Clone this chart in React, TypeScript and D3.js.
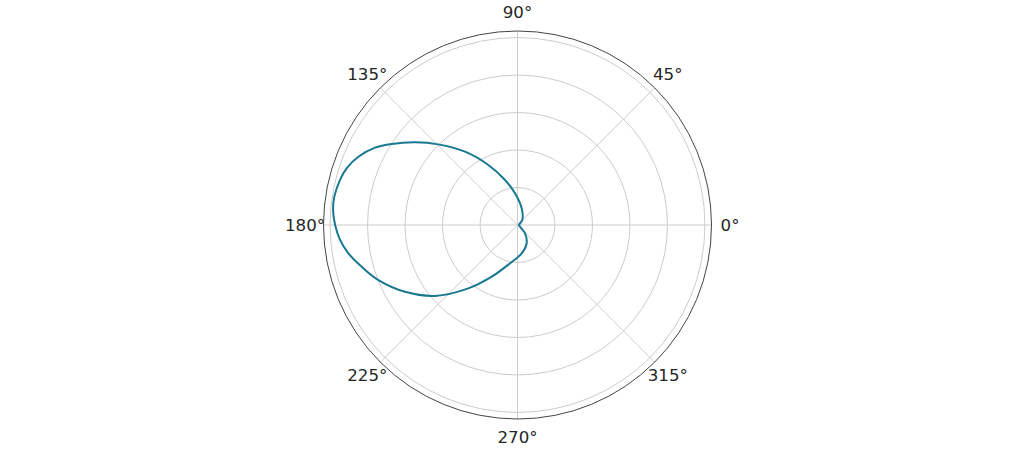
import { useEffect, useRef } from "react";
import * as d3 from "d3";

// angles in degrees (counter-clockwise from east), radius in data units
const angles = [
  0, 46, 76, 94.5, 105.5, 115.9, 125.6, 134.5, 141.1, 147.2, 151.5, 156.8,
  161.6, 165.8, 171.2, 175.4, 180, 184.8, 189.5, 195.7, 201.6, 210.7, 220.7,
  232.2, 243.5, 259, 278.4, 296.6, 312, 326,
];
const radii = [
  0.008, 0.037, 0.092, 0.17, 0.249, 0.356, 0.481, 0.603, 0.702, 0.798, 0.865,
  0.924, 0.96, 0.977, 0.989, 0.987, 0.973, 0.95, 0.915, 0.854, 0.798, 0.698,
  0.58, 0.428, 0.308, 0.208, 0.153, 0.109, 0.06, 0.016,
];
const radialTicks = [0.2, 0.4, 0.6, 0.8, 1.0];
const thetaTicks = [0, 45, 90, 135, 180, 225, 270, 315];

const WIDTH = 1035;
const HEIGHT = 450;

export default function App() {
  const svgRef = useRef<SVGSVGElement>(null);

  useEffect(() => {
    document.body.style.margin = "0";
    if (!svgRef.current) return;
    const svg = d3.select(svgRef.current);
    svg.selectAll("*").remove();

    const cx = 517.5;
    const cy = 225;
    const outer = 194;
    const r = d3.scaleLinear().domain([0, 1.035]).range([0, outer]);
    const toRad = (deg: number) => (deg * Math.PI) / 180;

    const g = svg.append("g").attr("transform", `translate(${cx},${cy})`);

    // grid circles
    g.selectAll("circle.grid")
      .data(radialTicks)
      .join("circle")
      .attr("class", "grid")
      .attr("r", (d) => r(d))
      .attr("fill", "none")
      .attr("stroke", "#cccccc")
      .attr("stroke-width", 1);

    // spokes
    g.selectAll("line.spoke")
      .data(thetaTicks)
      .join("line")
      .attr("class", "spoke")
      .attr("x1", 0)
      .attr("y1", 0)
      .attr("x2", (d) => outer * Math.cos(toRad(d)))
      .attr("y2", (d) => -outer * Math.sin(toRad(d)))
      .attr("stroke", "#cccccc")
      .attr("stroke-width", 1);

    // data curve
    const pts = angles.map((a, i) => [toRad(a), radii[i]] as [number, number]);
    const line = d3
      .lineRadial<[number, number]>()
      .angle((d) => Math.PI / 2 - d[0])
      .radius((d) => r(d[1]))
      .curve(d3.curveCatmullRomClosed.alpha(0.5));

    g.append("path")
      .attr("d", line(pts))
      .attr("fill", "none")
      .attr("stroke", "#17788f")
      .attr("stroke-width", 2)
      .attr("stroke-linejoin", "round");

    // outer spine
    g.append("circle")
      .attr("r", outer)
      .attr("fill", "none")
      .attr("stroke", "#444444")
      .attr("stroke-width", 1);

    // theta labels
    g.selectAll("text.theta")
      .data(thetaTicks)
      .join("text")
      .attr("class", "theta")
      .attr("x", (d) => 212.5 * Math.cos(toRad(d)))
      .attr("y", (d) => -212.5 * Math.sin(toRad(d)))
      .attr("text-anchor", "middle")
      .attr("dominant-baseline", "central")
      .attr("font-family", "DejaVu Sans")
      .attr("font-size", 16.67)
      .attr("fill", "#262626")
      .text((d) => `${d}°`);
  }, []);

  return (
    <svg
      ref={svgRef}
      width={WIDTH}
      height={HEIGHT}
      style={{ display: "block", background: "#ffffff" }}
    />
  );
}
